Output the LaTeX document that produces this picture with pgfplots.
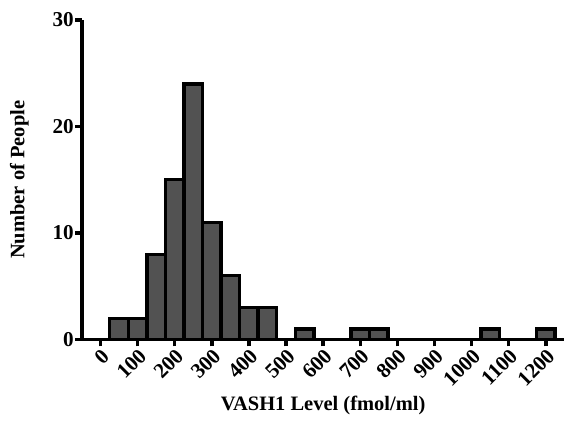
\documentclass[border=0pt]{standalone}
\usepackage{fontspec}
\setmainfont{Liberation Serif}
\usepackage{pgfplots}
\pgfplotsset{compat=1.18}
\begin{document}
\begin{tikzpicture}
\begin{axis}[
    scale only axis,
    width=365pt,
    height=242pt,
    xmin=-50, xmax=1250,
    ymin=0, ymax=30,
    axis x line*=bottom,
    axis y line*=left,
    axis line style={line width=2.6pt, black},
    xtick={0,100,...,1200},
    ytick={0,10,20,30},
    tick align=outside,
    major tick length=5pt,
    tick style={line width=2.6pt, black},
    /pgf/number format/assume math mode=true,
    /pgf/number format/1000 sep={},
    tick label style={font=\bfseries\fontsize{16}{18}\selectfont},
    yticklabel style={inner sep=1pt},
    xticklabel style={rotate=45, anchor=north east, inner sep=0.5pt},
    label style={font=\bfseries\fontsize{15.5}{18}\selectfont},
    xlabel={VASH1 Level (fmol/ml)},
    ylabel={Number of People},
    xlabel style={yshift=-2pt},
    ylabel style={at={(axis description cs:-0.13,0.5)}, anchor=center},
    ybar,
    bar width=50,
    bar shift=0pt,
    clip=false,
]
% histogram bins, width 50, centred on bin value
\addplot[fill=black!68, draw=black, line width=2.6pt] coordinates {
    (50,2) (100,2) (150,8) (200,15) (250,24) (300,11) (350,6)
    (400,3) (450,3) (550,1) (700,1) (750,1) (1050,1) (1200,1)
};
% white margin like the reference
\path (rel axis cs:0,1) ++(-62pt,15pt) (rel axis cs:1,0) ++(2pt,-66pt);
\end{axis}
\end{tikzpicture}
\end{document}
